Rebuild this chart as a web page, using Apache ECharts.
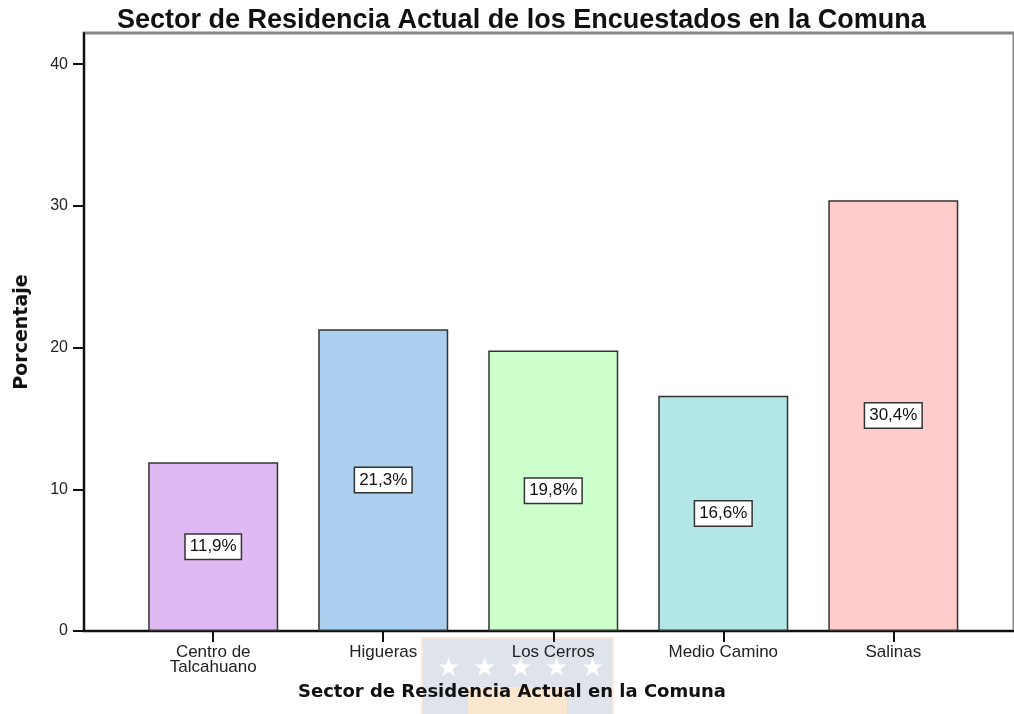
<!DOCTYPE html>
<html>
<head>
<meta charset="utf-8">
<script src="https://cdn.jsdelivr.net/npm/echarts@6/dist/echarts.min.js"></script>
<style>
  html, body { margin: 0; padding: 0; background: #fff; }
  #chart { width: 1014px; height: 714px; }
</style>
</head>
<body>
<div id="chart"></div>
<script>
// datos
const categories = ['Centro de\nTalcahuano', 'Higueras', 'Los Cerros', 'Medio Camino', 'Salinas'];
const percentages = [11.9, 21.3, 19.8, 16.6, 30.4];
const yTicks = [0, 10, 20, 30, 40];

const barColors = ['#DFB9F1', '#ABCFEE', '#CCFFCC', '#B3E6E6', '#FFCCCC'];
const catIdx = categories.map((c, i) => i);

const chart = echarts.init(document.getElementById('chart'));

// marca de agua (logo) detras del titulo del eje
const stars = [448, 484, 520, 556, 592].map(x => ({
    type: 'text', z: -1, x: x, y: 669,
    style: { text: '★', fill: '#fff', fontSize: 26, align: 'center', verticalAlign: 'middle' }
}));

chart.setOption({
    animation: false,
    title: {
        text: 'Sector de Residencia Actual de los Encuestados en la Comuna',
        left: 112,
        top: 2,
        textStyle: { fontFamily: 'Liberation Sans', fontWeight: 'bold', fontSize: 27, color: '#111' }
    },
    grid: {
        left: 84, top: 33, right: 0, bottom: 83,
        show: true, borderColor: '#888', borderWidth: 3
    },
    graphic: [
        { type: 'rect', z: -2, shape: { x: 422, y: 638, width: 191, height: 80 },
          style: { fill: '#dfe4ec', stroke: '#fbeadb', lineWidth: 2 } },
        { type: 'rect', z: -1, shape: { x: 468, y: 687, width: 99, height: 30 },
          style: { fill: '#fbe6d0' } }
    ].concat(stars),
    xAxis: {
        type: 'value',
        min: -0.76,
        max: 4.71,
        splitLine: { show: false },
        axisLine: { onZero: false, lineStyle: { color: '#111', width: 2 } },
        axisTick: { customValues: catIdx, length: 11, lineStyle: { color: '#111', width: 2 } },
        axisLabel: {
            customValues: catIdx,
            formatter: v => categories[Math.round(v)],
            fontFamily: 'Liberation Sans', fontSize: 17, color: '#222',
            lineHeight: 15, margin: 14
        },
        name: 'Sector de Residencia Actual en la Comuna',
        nameLocation: 'middle',
        nameGap: 52,
        nameTextStyle: {
            fontFamily: 'DejaVu Sans', fontWeight: 'bold', fontSize: 18, color: '#111',
            padding: [0, 74, 0, 0]
        }
    },
    yAxis: {
        type: 'value',
        min: 0,
        max: 42.2,
        splitLine: { show: false },
        axisLine: { show: true, onZero: false, lineStyle: { color: '#111', width: 2 } },
        axisTick: { show: true, customValues: yTicks, length: 11, lineStyle: { color: '#111', width: 2 } },
        axisLabel: {
            customValues: yTicks,
            fontFamily: 'Liberation Sans', fontSize: 16, color: '#222', margin: 16
        },
        name: 'Porcentaje',
        nameLocation: 'middle',
        nameRotate: 90,
        nameGap: 52,
        nameTextStyle: { fontFamily: 'DejaVu Sans', fontWeight: 'bold', fontSize: 19, color: '#111' }
    },
    series: [{
        type: 'bar',
        barWidth: 130,
        data: percentages.map((v, i) => ({
            value: [i, v],
            itemStyle: { color: barColors[i] }
        })),
        itemStyle: { borderColor: '#333', borderWidth: 1.5 },
        label: {
            show: true,
            position: 'inside',
            formatter: p => p.value[1].toFixed(1).replace('.', ',') + '%',
            backgroundColor: '#fff',
            borderColor: '#333',
            borderWidth: 1.5,
            padding: [4, 4, 3, 4],
            fontFamily: 'Liberation Sans',
            fontSize: 17,
            color: '#111'
        }
    }]
});
</script>
</body>
</html>
